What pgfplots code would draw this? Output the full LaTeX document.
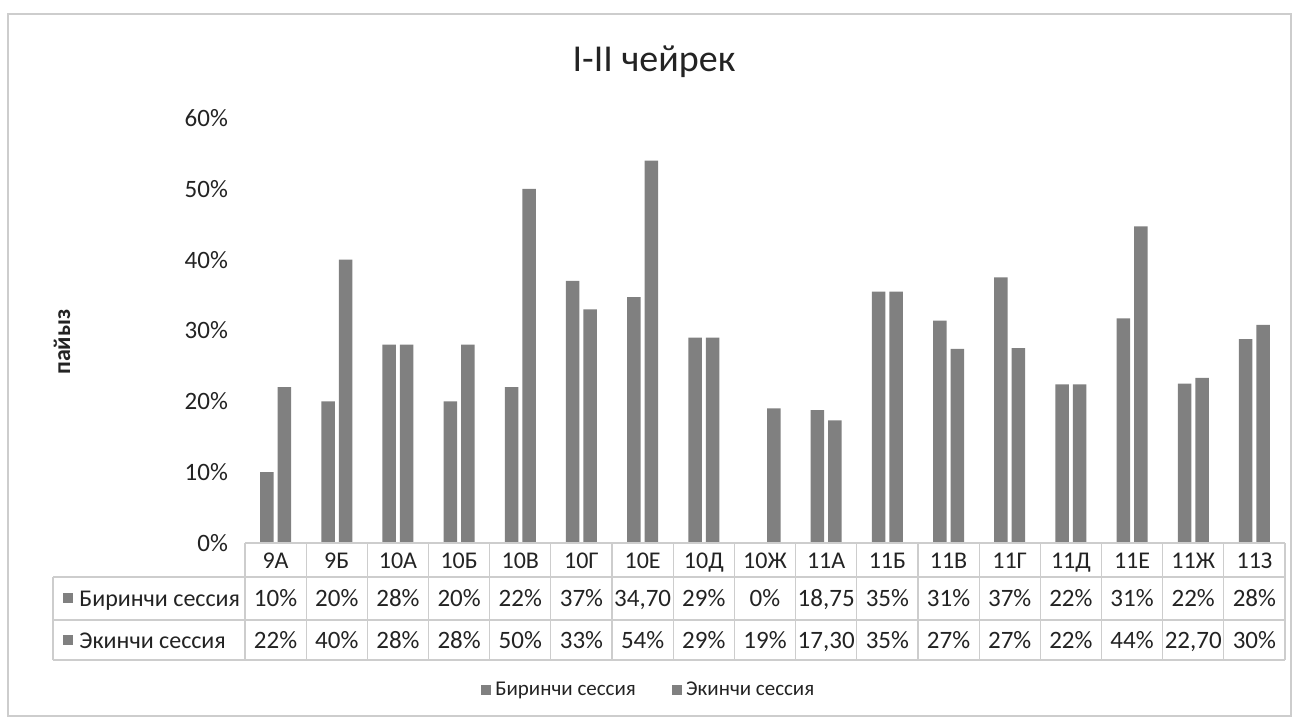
\documentclass[border=0pt]{standalone}
\usepackage{pgfplots}
\pgfplotsset{compat=1.18}
\usepackage{fontspec}
\setmainfont{Carlito}
\definecolor{bargray}{RGB}{128,128,128}
\definecolor{txt}{RGB}{35,35,35}
\definecolor{linegray}{RGB}{205,205,205}
\newcommand{\tfont}{\fontsize{12}{14}\selectfont}
\newcommand{\vfont}{\fontsize{12.5}{14}\selectfont}
\begin{document}
\begin{tikzpicture}[x=1pt,y=1pt]
\useasboundingbox (0,0) rectangle (649.5,362);
\draw[linegray, line width=0.6pt] (4,4) rectangle (645.5,355);
\begin{axis}[at={(122.5pt,90.5pt)}, anchor=south west, scale only axis,
  width=520pt, height=212.5pt,
  xmin=-0.5, xmax=16.5, ymin=0, ymax=60,
  ybar=2pt, bar width=6.75pt,
  axis line style={draw=none}, major tick length=0pt,
  /pgf/number format/assume math mode=true,
  xtick={0,...,16},
  xticklabels={9А,9Б,10А,10Б,10В,10Г,10Е,10Д,10Ж,11А,11Б,11В,11Г,11Д,11Е,11Ж,11З},
  xticklabel style={anchor=base, yshift=-12.5pt, font=\tfont, text=txt},
  ytick={0,10,...,60},
  yticklabel={\pgfmathprintnumber{\tick}\%},
  yticklabel style={font=\fontsize{12.5}{14}\selectfont, text=txt, xshift=-5pt},
  legend style={at={(0.389,-0.346)}, anchor=center, draw=none, fill=none,
    legend columns=2, font=\fontsize{10.5}{12}\selectfont, text=txt,
    /tikz/every even column/.append style={column sep=16pt}},
  legend image code/.code={\fill[#1] (0pt,-2.6pt) rectangle (5.2pt,2.6pt);},
]
\addplot[fill=bargray, draw=none] coordinates {
 (0,10) (1,20) (2,28) (3,20) (4,22) (5,37) (6,34.7) (7,29) (8,0)
 (9,18.75) (10,35.5) (11,31.4) (12,37.5) (13,22.4) (14,31.7) (15,22.5) (16,28.8)};
\addplot[fill=bargray, draw=none] coordinates {
 (0,22) (1,40) (2,28) (3,28) (4,50) (5,33) (6,54) (7,29) (8,19)
 (9,17.3) (10,35.5) (11,27.4) (12,27.5) (13,22.4) (14,44.7) (15,23.3) (16,30.8)};
\legend{Биринчи сессия, Экинчи сессия}
\end{axis}
% data table
\draw[linegray, line width=0.6pt] (122.5,90.5) -- (642.5,90.5);
\foreach \yy in {73.5,52,32} \draw[linegray, line width=0.6pt] (26.5,\yy) -- (642.5,\yy);
\draw[linegray, line width=0.6pt] (26.5,32) -- (26.5,73.5);
\foreach \i in {0,...,17} \draw[linegray, line width=0.6pt] ({122.5+\i*30.588},32) -- ({122.5+\i*30.588},90.5);
\fill[bargray] (31.5,60.4) rectangle (36.7,65.6);
\node[anchor=base west, font=\tfont, text=txt, inner sep=0pt] at (39.5,59) {Биринчи сессия};
\fill[bargray] (31.5,39.4) rectangle (36.7,44.6);
\node[anchor=base west, font=\tfont, text=txt, inner sep=0pt] at (39.5,38) {Экинчи сессия};
\foreach \v [count=\i from 0] in {10\%,20\%,28\%,20\%,22\%,37\%,{34,70},29\%,0\%,{18,75},35\%,31\%,37\%,22\%,31\%,22\%,28\%}
  \node[font=\vfont, text=txt, anchor=base, inner sep=0pt] at ({122.5+(\i+0.5)*30.588},59) {\v};
\foreach \v [count=\i from 0] in {22\%,40\%,28\%,28\%,50\%,33\%,54\%,29\%,19\%,{17,30},35\%,27\%,27\%,22\%,44\%,{22,70},30\%}
  \node[font=\vfont, text=txt, anchor=base, inner sep=0pt] at ({122.5+(\i+0.5)*30.588},38) {\v};
% titles
\node[font=\fontsize{19}{22}\selectfont, text=txt] at (327,331) {I-II чейрек};
\node[font=\bfseries\fontsize{12}{14}\selectfont, text=txt, rotate=90] at (31,191) {пайыз};
\end{tikzpicture}
\end{document}
